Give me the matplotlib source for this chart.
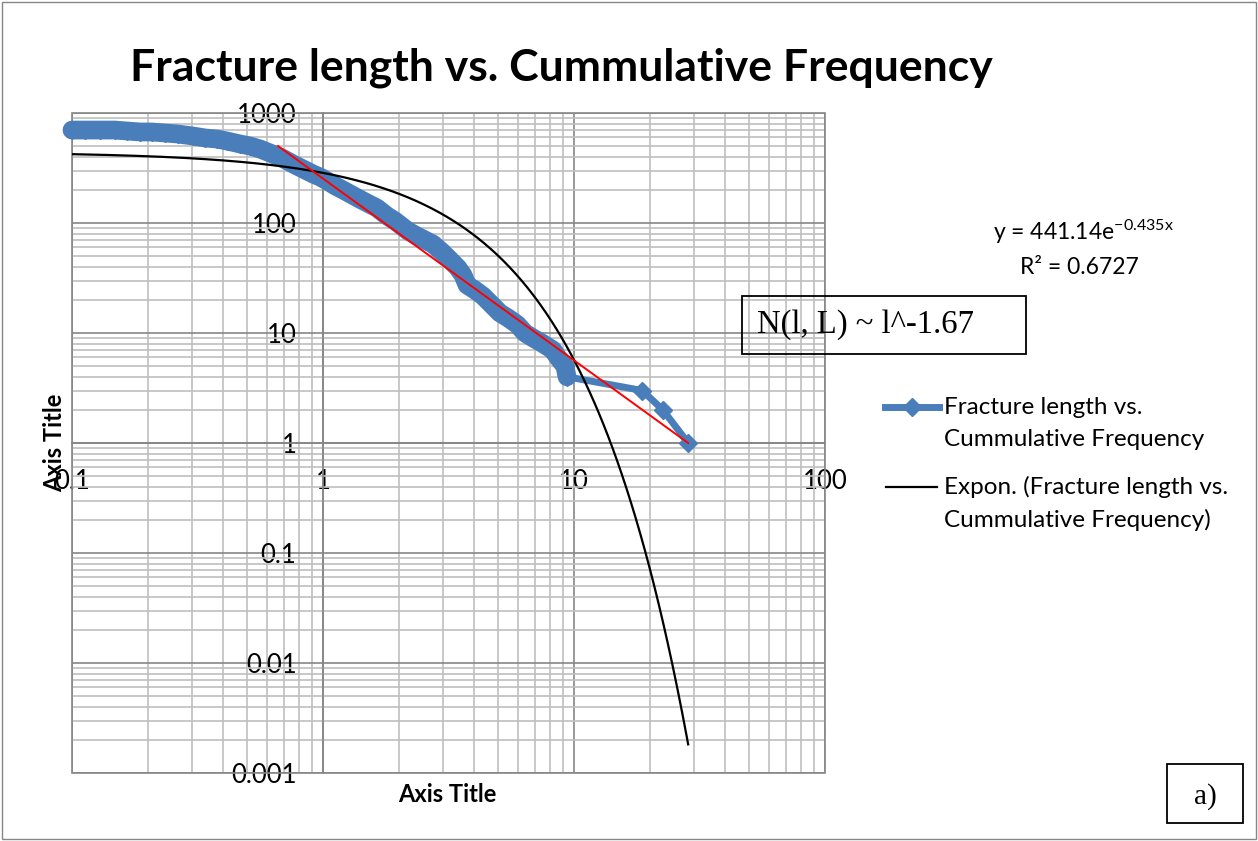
import numpy as np
import matplotlib.pyplot as plt
from matplotlib.lines import Line2D
from matplotlib.patches import Rectangle
from matplotlib.ticker import FixedLocator, FixedFormatter, LogLocator, NullFormatter

plt.rcParams['font.family'] = ['Lato', 'DejaVu Sans']
plt.rcParams['mathtext.default'] = 'regular'

# fracture length vs. cumulative frequency
length = [0.100, 0.113, 0.129, 0.148, 0.166, 0.187, 0.208, 0.235, 0.264, 0.303,
          0.339, 0.378, 0.415, 0.467, 0.512, 0.561, 0.615, 0.687, 0.759, 0.832,
          0.912, 0.973, 1.04, 1.12, 1.20, 1.305, 1.40, 1.50, 1.64, 1.80,
          1.94, 2.03, 2.18, 2.37, 2.55, 2.74, 2.98, 3.21, 3.45, 3.61,
          3.75, 4.03, 4.34, 4.71, 5.07, 5.46, 5.93, 6.38, 6.87, 7.52,
          8.24, 8.63, 9.20, 9.38, 18.7, 22.6, 28.5]
cum_freq = [700, 700, 700, 700, 686, 672, 672, 658, 644, 618,
            593, 580, 556, 523, 501, 471, 433, 390, 344, 310,
            279, 262, 241, 217, 200, 180, 165, 152, 137, 116,
            104, 96, 84.6, 76.2, 70.0, 64.4, 54.5, 46.1, 39.0, 33.7,
            27.3, 24.6, 21.7, 18.0, 15.2, 13.7, 12, 10, 9, 8,
            7, 6, 5, 4, 3, 2, 1]

# exponential trendline as reported on the chart: y = a * exp(b * x)
exp_a = 441.14
exp_b = -0.435
trend_start, trend_end = 0.1, 28.5

# power-law guide, N(l, L) ~ l^-1.67
power_x = [0.662, 28.5]
power_y = [501, 1]

x_ticks = [0.1, 1, 10, 100]
x_labels = ['0.1', '1', '10', '100']
y_ticks = [0.001, 0.01, 0.1, 1, 10, 100, 1000]
y_labels = ['0.001', '0.01', '0.1', '1', '10', '100', '1000']

blue = '#4A7EBB'
W, H = 1258, 841

fig = plt.figure(figsize=(W / 100, H / 100), dpi=100)
ax = fig.add_axes([72 / W, 1 - 773 / H, 753 / W, 660 / H])
ax.set_xscale('log')
ax.set_yscale('log')
ax.set_xlim(0.1, 100)
ax.set_ylim(0.001, 1000)

ax.xaxis.set_major_locator(FixedLocator(x_ticks))
ax.xaxis.set_major_formatter(FixedFormatter(x_labels))
ax.yaxis.set_major_locator(FixedLocator(y_ticks))
ax.yaxis.set_major_formatter(FixedFormatter(y_labels))
for axis in (ax.xaxis, ax.yaxis):
    axis.set_minor_locator(LogLocator(base=10, subs=np.arange(2, 10), numticks=100))
    axis.set_minor_formatter(NullFormatter())

ax.grid(which='major', color='#868686', lw=1.2)
ax.grid(which='minor', color='#BFBFBF', lw=1.2)
ax.set_axisbelow(True)

# axes cross at (1, 1) like the Excel original
for s in ['left', 'bottom']:
    ax.spines[s].set_position(('data', 1))
    ax.spines[s].set_color('#868686')
    ax.spines[s].set_linewidth(1.2)
for s in ['top', 'right']:
    ax.spines[s].set_visible(False)
ax.add_patch(Rectangle((0, 0), 1, 1, transform=ax.transAxes, fill=False,
                       ec='#868686', lw=1.2, clip_on=False))
ax.tick_params(which='both', length=0, labelsize=18.5)
ax.tick_params(axis='x', pad=19)
ax.tick_params(axis='y', pad=19)

# data: the real series has hundreds of points, its markers merge into a band
dense = length.index(9.38) + 1
ax.plot(length[:dense], cum_freq[:dense], color=blue, lw=13.5, clip_on=False,
        solid_capstyle='round', solid_joinstyle='round', zorder=3)
ax.plot(length, cum_freq, color=blue, lw=5, marker='D', ms=9.5, mfc=blue, mec=blue,
        clip_on=False, zorder=3)
tx = np.geomspace(trend_start, trend_end, 400)
ax.plot(tx, exp_a * np.exp(exp_b * tx), color='black', lw=1.6, zorder=4)
ax.plot(power_x, power_y, color='red', lw=1.4, zorder=5)

# titles
fig.text(561 / W, 1 - 80 / H, 'Fracture length vs. Cummulative Frequency',
         ha='center', va='baseline', fontsize=32, fontweight='bold')
fig.text(447 / W, 1 - 795 / H, 'Axis Title', ha='center', va='center',
         fontsize=17, fontweight='bold')
fig.text(55 / W, 1 - 443 / H, 'Axis Title', ha='center', va='center',
         rotation=90, fontsize=17, fontweight='bold')

# trendline equation
fig.text(993 / W, 1 - 240 / H, r'y = 441.14e$^{-0.435x}$', ha='left', va='baseline',
         fontsize=16.5)
fig.text(1020 / W, 1 - 274 / H, 'R² = 0.6727', ha='left', va='baseline', fontsize=16.5)

# legend drawn by hand so the handles sit on the first text line
fig.add_artist(Line2D([885 / W, 939 / W], [1 - 407 / H] * 2, color=blue, lw=5,
                      transform=fig.transFigure))
fig.add_artist(Line2D([912 / W], [1 - 407 / H], color=blue, marker='D', ms=9,
                      transform=fig.transFigure))
fig.add_artist(Line2D([886 / W, 937 / W], [1 - 487 / H] * 2, color='black', lw=1.6,
                      transform=fig.transFigure))
fig.text(944 / W, 1 - 414 / H, 'Fracture length vs.', va='baseline', fontsize=17.5)
fig.text(944 / W, 1 - 446 / H, 'Cummulative Frequency', va='baseline', fontsize=17.5)
fig.text(944 / W, 1 - 494 / H, 'Expon. (Fracture length vs.', va='baseline', fontsize=17.5)
fig.text(944 / W, 1 - 527 / H, 'Cummulative Frequency)', va='baseline', fontsize=17.5)

# annotation boxes
fig.add_artist(Rectangle((742 / W, 1 - 354 / H), 284 / W, 58 / H, fill=False,
                         ec='black', lw=1.3, transform=fig.transFigure))
fig.text(757 / W, 1 - 325 / H, 'N(l, L) ~ l^-1.67', va='center', fontsize=23.5,
         family='Liberation Serif')
fig.add_artist(Rectangle((1167 / W, 1 - 823 / H), 76 / W, 59 / H, fill=False,
                         ec='black', lw=1.3, transform=fig.transFigure))
fig.text(1205 / W, 1 - 797 / H, 'a)', ha='center', va='center', fontsize=21,
         family='Liberation Serif')

# outer chart border
fig.add_artist(Rectangle((2 / W, 2 / H), (W - 4) / W, (H - 4) / H, fill=False,
                         ec='#868686', lw=1, transform=fig.transFigure))

fig.savefig('out.png', dpi=100)
